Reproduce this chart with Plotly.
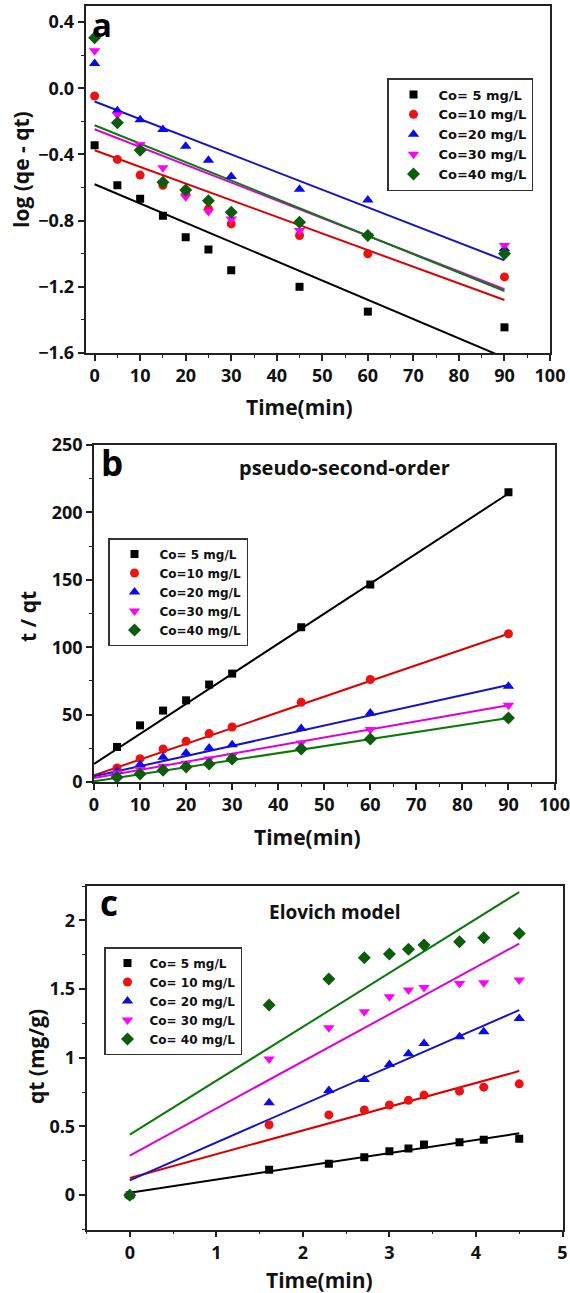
import plotly.graph_objects as go

# ---------------- data ----------------
labels_ab = ["Co= 5 mg/L", "Co=10 mg/L", "Co=20 mg/L", "Co=30 mg/L", "Co=40 mg/L"]
labels_c = ["Co= 5 mg/L", "Co= 10 mg/L", "Co= 20 mg/L", "Co= 30 mg/L", "Co= 40 mg/L"]

# panel a: pseudo-first-order
t_a = [0, 5, 10, 15, 20, 25, 30, 45, 60, 90]
a_c5 = [-0.344, -0.586, -0.668, -0.771, -0.90, -0.975, -1.10, -1.20, -1.35, -1.445]
a_c10 = [-0.047, -0.43, -0.525, -0.586, -0.64, -0.73, -0.82, -0.89, -1.0, -1.14]
a_c20 = [0.149, -0.136, -0.19, -0.25, -0.35, -0.435, -0.533, -0.61, -0.676, -0.97]
a_c30 = [0.226, -0.16, -0.34, -0.48, -0.655, -0.745, -0.79, -0.86, -0.89, -0.95]
a_c40 = [0.305, -0.208, -0.375, -0.568, -0.615, -0.68, -0.75, -0.81, -0.89, -1.0]
a_fit_t = [0, 90]
a_fit_c5 = [-0.58, -1.628]
a_fit_c10 = [-0.375, -1.28]
a_fit_c20 = [-0.08, -1.04]
a_fit_c30 = [-0.248, -1.215]
a_fit_c40 = [-0.224, -1.225]

# panel b: pseudo-second-order
t_b = [5, 10, 15, 20, 25, 30, 45, 60, 90]
b_c5 = [26, 42, 53, 60.6, 72.3, 80.4, 114.8, 146.5, 215]
b_c10 = [10.4, 17.3, 24.5, 30.2, 35.9, 40.8, 59.2, 76, 110]
b_c20 = [7.9, 12.9, 18.3, 21.5, 25.2, 27.7, 39.6, 51.2, 71]
b_c30 = [6.7, 9.2, 11.6, 14, 17, 19.5, 29, 38.9, 57]
b_c40 = [3.5, 6, 8.7, 11.1, 13.4, 17, 24.5, 31.9, 47.5]
b_fit_t = [0, 90]
b_fit_c5 = [13.4, 214]
b_fit_c10 = [5, 110]
b_fit_c20 = [4.2, 72]
b_fit_c30 = [3, 57]
b_fit_c40 = [0.5, 47.5]

# panel c: Elovich model
t_c = [0, 1.61, 2.30, 2.71, 3.00, 3.22, 3.40, 3.81, 4.09, 4.50]
c_c5 = [0, 0.185, 0.228, 0.276, 0.32, 0.339, 0.368, 0.385, 0.404, 0.41]
c_c10 = [0, 0.512, 0.584, 0.62, 0.656, 0.69, 0.728, 0.757, 0.786, 0.81]
c_c20 = [0, 0.673, 0.762, 0.842, 0.951, 1.03, 1.104, 1.153, 1.19, 1.286]
c_c30 = [0, 0.99, 1.218, 1.335, 1.444, 1.493, 1.512, 1.54, 1.546, 1.566]
c_c40 = [0, 1.384, 1.573, 1.728, 1.755, 1.79, 1.82, 1.845, 1.874, 1.905]
c_fit_t = [0, 4.5]
c_fit_c5 = [0.017, 0.45]
c_fit_c10 = [0.125, 0.903]
c_fit_c20 = [0.108, 1.347]
c_fit_c30 = [0.288, 1.83]
c_fit_c40 = [0.44, 2.206]

# ---------------- styles ----------------
mcol = ["#000000", "#ee1111", "#0a0aee", "#ff00ff", "#0b5d0b"]
lcol = ["#000000", "#dd0000", "#1414cc", "#dd00dd", "#0a7a0a"]
sym = ["square", "circle", "triangle-up", "triangle-down", "diamond"]
msize = [8, 9, 10, 10, 10]

fig = go.Figure()

def add_panel(xs, series, fit_x, fits, labels, xa, ya, leg):
    for i in range(5):
        fig.add_trace(go.Scatter(
            x=fit_x, y=fits[i], mode="lines", xaxis=xa, yaxis=ya,
            line=dict(color=lcol[i], width=2), showlegend=False, hoverinfo="skip"))
    for i in range(5):
        fig.add_trace(go.Scatter(
            x=xs, y=series[i], mode="markers", xaxis=xa, yaxis=ya,
            name=labels[i], legend=leg,
            marker=dict(symbol=sym[i], size=msize[i], color=mcol[i],
                        line=dict(width=0))))

add_panel(t_a, [a_c5, a_c10, a_c20, a_c30, a_c40], a_fit_t,
          [a_fit_c5, a_fit_c10, a_fit_c20, a_fit_c30, a_fit_c40], labels_ab, "x", "y", "legend")
add_panel(t_b, [b_c5, b_c10, b_c20, b_c30, b_c40], b_fit_t,
          [b_fit_c5, b_fit_c10, b_fit_c20, b_fit_c30, b_fit_c40], labels_ab, "x2", "y2", "legend2")
add_panel(t_c, [c_c5, c_c10, c_c20, c_c30, c_c40], c_fit_t,
          [c_fit_c5, c_fit_c10, c_fit_c20, c_fit_c30, c_fit_c40], labels_c, "x3", "y3", "legend3")

W, H = 570, 1293
tickf = dict(family="Open Sans", size=18, color="#111", weight="bold")
titlef = dict(family="Open Sans", size=21, color="#111", weight="bold")

def ax(rng, dtick, minor_dtick, domain, anchor):
    return dict(range=rng, dtick=dtick, tick0=0, domain=domain, anchor=anchor,
                showline=True, linecolor="#222", linewidth=1.5, mirror=True,
                ticks="outside", ticklen=6, tickwidth=1.5, tickcolor="#222",
                showgrid=False, zeroline=False, tickfont=tickf, automargin=False,
                minor=dict(dtick=minor_dtick, tick0=0, ticks="outside", ticklen=3,
                           tickwidth=1.2, tickcolor="#222", showgrid=False))

def px(x0, x1):
    return [x0 / W, x1 / W]

def py(y_top, y_bot):
    return [1 - y_bot / H, 1 - y_top / H]

def leg(x, y, size, iw):
    return dict(x=x / W, y=1 - y / H, xanchor="left", yanchor="top",
                bgcolor="rgba(255,255,255,0)", bordercolor="#333", borderwidth=1.5,
                font=dict(family="DejaVu Sans", size=size, color="#111", weight="bold"),
                itemwidth=iw, tracegroupgap=0)

fig.update_layout(
    width=W, height=H, margin=dict(l=0, r=0, t=0, b=0, autoexpand=False),
    paper_bgcolor="white", plot_bgcolor="white", showlegend=True,
    xaxis=ax([-2, 100], 10, 5, px(85.5, 550), "y"),
    yaxis=ax([-1.6, 0.5], 0.4, 0.2, py(5.5, 353), "x"),
    xaxis2=ax([0, 100], 10, 5, px(94, 554.5), "y2"),
    yaxis2=ax([0, 250], 50, 25, py(445, 782), "x2"),
    xaxis3=ax([-0.5, 5], 1, 0.5, px(86.5, 562.5), "y3"),
    yaxis3=ax([-0.25, 2.25], 0.5, 0.25, py(886, 1229.5), "x3"),
    legend=leg(387, 78, 13, 40),
    legend2=leg(108, 538, 12, 40),
    legend3=leg(104, 947, 12, 34),
)
fig.layout.yaxis.tickformat = ".1f"

def ann(text, x, y, font, angle=0, yanchor="middle"):
    fig.add_annotation(text=text, x=x / W, y=1 - y / H, xref="paper", yref="paper",
                       xanchor="center", yanchor=yanchor, showarrow=False,
                       font=font, textangle=angle)

# axis titles
ann("Time(min)", 299, 407, titlef)
ann("Time(min)", 307, 837, titlef)
ann("Time(min)", 319, 1280, titlef)
ann("log (qe - qt)", 21, 170, titlef, -90)
ann("t / qt", 28, 617, titlef, -90)
ann("qt (mg/g)", 36, 1057, titlef, -90)

# panel letters
letterf = dict(family="Open Sans", size=33, color="#000", weight="bold")
ann("a", 102, 0, letterf, yanchor="top")
ann("b", 112, 462, dict(family="Open Sans", size=35, color="#000", weight="bold"))
ann("c", 109, 902, dict(family="Open Sans", size=35, color="#000", weight="bold"))

# panel titles
ann("pseudo-second-order", 344, 468, dict(family="Open Sans", size=20, color="#111", weight="bold"))
ann("Elovich model", 334, 912, dict(family="Open Sans", size=19, color="#111", weight="bold"))

fig.write_html("out.html", config={"displayModeBar": False},
               post_script="document.body.style.margin='0';")
